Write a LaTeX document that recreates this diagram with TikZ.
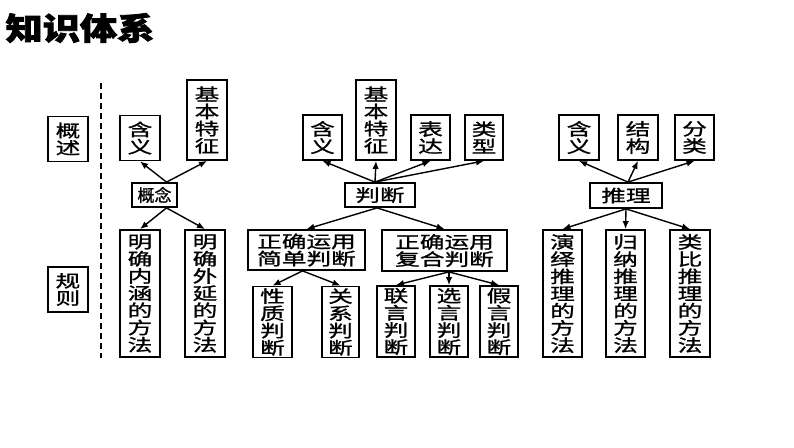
\documentclass[tikz,border=0pt]{standalone}
\usepackage{fontspec}
\newfontfamily\cjk[FakeStretch=1.45,FakeBold=1.2]{Noto Sans CJK SC}
\newfontfamily\cjknarrow[FakeBold=1.2]{Noto Sans CJK SC}
\newfontfamily\cjktitle[FakeStretch=1.2,FakeBold=2.5]{Noto Sans CJK SC}
\usepackage{tikz}
\usetikzlibrary{arrows.meta}
\tikzstyle{box} = [rectangle, sharp corners, draw, line width=1.8pt,
                   inner sep=0pt, align=center,
                   font=\cjk\fontsize{17}{17.2}\selectfont]
\tikzstyle{sbox} = [box, minimum width=40pt, minimum height=45pt]
\tikzstyle{tbox} = [box, minimum width=40pt, minimum height=80pt]
\tikzstyle{mbox} = [box, minimum width=38pt, minimum height=71pt]
\tikzstyle{vbox} = [box, minimum width=40pt, minimum height=127pt]
\tikzstyle{hub}  = [box, minimum width=70pt, minimum height=24pt]
\tikzstyle{link} = [-{Latex[length=8pt,width=6.5pt]}, line width=1.4pt]

\begin{document}
\begin{tikzpicture}[x=1pt, y=-1pt]
\useasboundingbox (0,0) rectangle (794,447);
% title
\node[font=\cjktitle\bfseries\fontsize{31}{31}\selectfont] (title) at (80,28) {知识体系};

% left side
\node[sbox] (gs) at (68,139) {概\\述};
\node[sbox] (gz) at (68,289.5) {规\\则};
\coordinate (dtop) at (101,83);
\coordinate (dbot) at (101,358);
\draw[line width=2.6pt, dash pattern=on 6pt off 4pt] (dtop) -- (dbot);

% concept
\node[sbox] (hy1) at (140,138) {含\\义};
\node[tbox] (tz1) at (207,120) {基\\本\\特\\征};
\node[box, minimum width=45pt, minimum height=24pt,
      font=\cjknarrow\fontsize{17}{17}\selectfont] (gn) at (154.5,195) {概念};
\node[vbox] (nh) at (140,293.5) {明\\确\\内\\涵\\的\\方\\法};
\node[vbox] (wy) at (205,293.5) {明\\确\\外\\延\\的\\方\\法};
\draw[link] ([xshift=12pt]gn.north) -- (hy1.south);
\draw[link] ([xshift=12pt]gn.north) -- (tz1.south);
\draw[link] ([xshift=12pt]gn.south) -- (nh.north);
\draw[link] ([xshift=12pt]gn.south) -- (wy.north);

% judgement
\node[sbox, minimum width=39pt] (hy2) at (322.5,137.5) {含\\义};
\node[tbox] (tz2) at (376,120) {基\\本\\特\\征};
\node[sbox, minimum width=39pt] (bd) at (430.5,137.5) {表\\达};
\node[sbox, minimum width=38pt] (lx) at (484,137.5) {类\\型};
\node[hub] (pd) at (380,195) {判断};
\node[box, minimum width=117pt, minimum height=40pt] (jd) at (306.5,250) {正确运用\\简单判断};
\node[box, minimum width=125pt, minimum height=41pt] (fh) at (444.5,250.5) {正确运用\\复合判断};
\node[mbox, minimum width=39pt] (xz) at (272.5,322) {性\\质\\判\\断};
\node[mbox, minimum width=37pt] (gx) at (340.5,322) {关\\系\\判\\断};
\node[mbox] (ly) at (396,321.5) {联\\言\\判\\断};
\node[mbox] (xy) at (449,321.5) {选\\言\\判\\断};
\node[mbox] (jy) at (499,321.5) {假\\言\\判\\断};
\draw[link] ([xshift=-5pt]pd.north) -- (hy2.south);
\draw[link] ([xshift=-5pt]pd.north) -- (tz2.south);
\draw[link] ([xshift=-5pt]pd.north) -- (bd.south);
\draw[link] ([xshift=-5pt]pd.north) -- (lx.south);
\draw[link] ([xshift=-3pt]pd.south) -- (jd.north);
\draw[link] ([xshift=-3pt]pd.south) -- (fh.north);
\draw[link] ([xshift=-4pt]jd.south) -- (xz.north);
\draw[link] ([xshift=-4pt]jd.south) -- (gx.north);
\draw[link] ([xshift=4.5pt]fh.south) -- (ly.north);
\draw[link] ([xshift=4.5pt]fh.south) -- (xy.north);
\draw[link] ([xshift=4.5pt]fh.south) -- (jy.north);

% inference
\node[sbox] (hy3) at (579,137.5) {含\\义};
\node[sbox] (jg) at (638,137.5) {结\\构};
\node[sbox, minimum width=39pt] (fl) at (694.5,137.5) {分\\类};
\node[hub, minimum width=72pt, minimum height=25pt] (tl) at (626,195.5) {推理};
\node[vbox, minimum width=39pt] (yy) at (562.5,293.5) {演\\绎\\推\\理\\的\\方\\法};
\node[vbox, minimum width=39pt] (gn2) at (625.5,293.5) {归\\纳\\推\\理\\的\\方\\法};
\node[vbox] (lb) at (690,293.5) {类\\比\\推\\理\\的\\方\\法};
\draw[link] ([xshift=2pt]tl.north) -- (hy3.south);
\draw[link] ([xshift=2pt]tl.north) -- (jg.south);
\draw[link] ([xshift=2pt]tl.north) -- (fl.south);
\draw[link] (tl.south) -- (yy.north);
\draw[link] (tl.south) -- (gn2.north);
\draw[link] (tl.south) -- (lb.north);
\end{tikzpicture}
\end{document}
